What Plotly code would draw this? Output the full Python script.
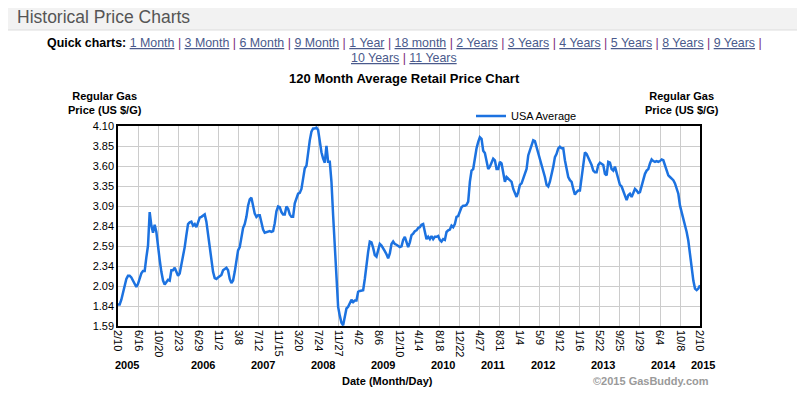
import numpy as np
import pandas as pd
import plotly.graph_objects as go

# weekly-ish average retail price, 2/10/2005 -> 2/10/2015
price = [
    1.86, 1.86, 1.92, 2.02, 2.08, 2.18, 2.22, 2.22, 2.20, 2.16,
    2.10, 2.08, 2.12, 2.18, 2.25, 2.28, 2.28, 2.45, 2.60, 3.02,
    2.85, 2.76, 2.86, 2.77, 2.56, 2.42, 2.27, 2.16, 2.11, 2.14,
    2.17, 2.16, 2.29, 2.29, 2.32, 2.27, 2.22, 2.25, 2.35, 2.48,
    2.58, 2.73, 2.87, 2.89, 2.90, 2.85, 2.87, 2.83, 2.90, 2.95,
    2.96, 2.98, 2.99, 2.90, 2.73, 2.56, 2.39, 2.27, 2.19, 2.18,
    2.20, 2.22, 2.23, 2.29, 2.30, 2.32, 2.29, 2.18, 2.13, 2.16,
    2.27, 2.44, 2.54, 2.58, 2.73, 2.82, 2.87, 2.96, 3.10, 3.18,
    3.20, 3.08, 3.00, 2.96, 2.98, 2.98, 2.87, 2.80, 2.76, 2.77,
    2.78, 2.78, 2.77, 2.78, 2.88, 3.03, 3.09, 3.08, 3.02, 2.99,
    2.99, 3.09, 3.06, 2.99, 2.96, 2.96, 3.13, 3.19, 3.25, 3.26,
    3.31, 3.44, 3.57, 3.60, 3.77, 3.92, 4.03, 4.07, 4.07, 4.08,
    4.05, 3.90, 3.77, 3.69, 3.64, 3.85, 3.65, 3.65, 3.40, 2.98,
    2.56, 2.18, 1.83, 1.72, 1.63, 1.60, 1.70, 1.81, 1.83, 1.87,
    1.92, 1.89, 1.91, 1.91, 2.02, 2.03, 2.04, 2.04, 2.18, 2.37,
    2.52, 2.65, 2.64, 2.57, 2.48, 2.46, 2.55, 2.62, 2.60, 2.57,
    2.53, 2.49, 2.44, 2.50, 2.62, 2.65, 2.62, 2.61, 2.60, 2.58,
    2.59, 2.67, 2.71, 2.64, 2.58, 2.64, 2.73, 2.75, 2.78, 2.79,
    2.82, 2.83, 2.86, 2.87, 2.79, 2.68, 2.71, 2.68, 2.72, 2.68,
    2.71, 2.71, 2.72, 2.67, 2.65, 2.68, 2.67, 2.77, 2.79, 2.80,
    2.85, 2.83, 2.87, 2.96, 2.97, 3.04, 3.08, 3.10, 3.10, 3.11,
    3.15, 3.40, 3.54, 3.56, 3.71, 3.82, 3.90, 3.96, 3.94, 3.79,
    3.76, 3.67, 3.56, 3.59, 3.65, 3.69, 3.67, 3.56, 3.56, 3.65,
    3.63, 3.52, 3.40, 3.46, 3.44, 3.42, 3.40, 3.31, 3.27, 3.21,
    3.27, 3.36, 3.38, 3.44, 3.50, 3.56, 3.73, 3.79, 3.86, 3.92,
    3.91, 3.84, 3.75, 3.69, 3.61, 3.54, 3.46, 3.36, 3.34, 3.40,
    3.48, 3.59, 3.71, 3.75, 3.82, 3.84, 3.82, 3.82, 3.67, 3.56,
    3.46, 3.42, 3.40, 3.31, 3.24, 3.27, 3.29, 3.29, 3.44, 3.63,
    3.77, 3.75, 3.71, 3.67, 3.61, 3.54, 3.52, 3.52, 3.61, 3.64,
    3.63, 3.61, 3.50, 3.48, 3.65, 3.64, 3.56, 3.54, 3.59, 3.52,
    3.44, 3.36, 3.34, 3.29, 3.23, 3.17, 3.23, 3.25, 3.21, 3.27,
    3.31, 3.29, 3.26, 3.27, 3.36, 3.44, 3.50, 3.54, 3.56, 3.63,
    3.68, 3.66, 3.65, 3.66, 3.65, 3.66, 3.68, 3.67, 3.61, 3.54,
    3.48, 3.46, 3.44, 3.42, 3.38, 3.31, 3.25, 3.10, 3.02, 2.92,
    2.85, 2.77, 2.66, 2.48, 2.31, 2.16, 2.06, 2.04, 2.06, 2.10,
]
dates = pd.date_range("2005-02-10", "2015-02-10", periods=len(price))

tick_dates = [
    "2005-02-10", "2005-06-16", "2005-10-20", "2006-02-23", "2006-06-29",
    "2006-11-02", "2007-03-08", "2007-07-12", "2007-11-15", "2008-03-20",
    "2008-07-24", "2008-11-27", "2009-04-02", "2009-08-06", "2009-12-10",
    "2010-04-14", "2010-08-18", "2010-12-22", "2011-04-27", "2011-08-31",
    "2012-01-04", "2012-05-09", "2012-09-12", "2013-01-16", "2013-05-22",
    "2013-09-25", "2014-01-29", "2014-06-04", "2014-10-08", "2015-02-10",
]
tick_text = [f"{d.month}/{d.day}" for d in pd.to_datetime(tick_dates)]

y_labels = ["1.59", "1.84", "2.09", "2.34", "2.59", "2.84",
            "3.09", "3.35", "3.60", "3.85", "4.10"]
y_vals = np.linspace(1.59, 4.10, len(y_labels))

years = ["2005", "2006", "2007", "2008", "2009", "2010",
         "2011", "2012", "2013", "2014", "2015"]
year_px = [127, 203, 263, 323, 383, 443, 493, 543, 603, 663, 703]

quick_links = ["1 Month", "3 Month", "6 Month", "9 Month", "1 Year", "18 month",
               "2 Years", "3 Years", "4 Years", "5 Years", "8 Years", "9 Years"]
quick_links2 = ["10 Years", "11 Years"]

# plot box in window pixels; the page body adds an 8px offset
OFF = 8
L, T, W, H = 118, 126, 582, 200
FW, FH = 805 - OFF, 403 - OFF
FONT = "Arial, Liberation Sans, sans-serif"


def fx(p):
    return (p - L) / W


def fy(p):
    return (T + H - p) / H


fig = go.Figure()
fig.add_trace(go.Scatter(
    x=dates, y=price, mode="lines", name="USA Average",
    line=dict(color="#1c72e0", width=2.5),
))

link = "<span style='color:#4a5a8c'><u>%s</u></span>"
sep = " <span style='color:#7a2a7a'>|</span> "
row1 = "<b>Quick charts:</b> " + sep.join(link % s for s in quick_links) + sep.rstrip()
row2 = sep.join(link % s for s in quick_links2)

ann = [
    dict(x=fx(15), y=fy(17), text="Historical Price Charts", xanchor="left",
         font=dict(size=17.5, color="#555555")),
    dict(x=fx(404), y=fy(43.5), text=row1, font=dict(size=12.4, color="#000000")),
    dict(x=fx(404), y=fy(58), text=row2, font=dict(size=12.4, color="#000000")),
    dict(x=fx(404), y=fy(79), text="<b>120 Month Average Retail Price Chart</b>",
         font=dict(size=13, color="#000000")),
    dict(x=fx(105), y=fy(103), text="<b>Regular Gas<br>Price (US $/G)</b>",
         font=dict(size=11, color="#000000")),
    dict(x=fx(682), y=fy(103), text="<b>Regular Gas<br>Price (US $/G)</b>",
         font=dict(size=11, color="#000000")),
    dict(x=fx(387), y=fy(381), text="<b>Date (Month/Day)</b>",
         font=dict(size=11, color="#000000")),
    dict(x=fx(651), y=fy(381), text="<b>©2015 GasBuddy.com</b>",
         font=dict(size=11, color="#9a9a9a")),
]
for yr, p in zip(years, year_px):
    ann.append(dict(x=fx(p), y=fy(365), text="<b>%s</b>" % yr,
                    font=dict(size=11, color="#000000")))
for a in ann:
    a.update(xref="paper", yref="paper", showarrow=False, yanchor="middle")
    a["font"]["family"] = FONT
    a.setdefault("xanchor", "center")

shapes = [
    dict(type="rect", xref="paper", yref="paper",
         x0=fx(4), x1=fx(806), y0=fy(4), y1=fy(410),
         line=dict(color="#dddddd", width=1), fillcolor="white", layer="below"),
    dict(type="rect", xref="paper", yref="paper",
         x0=fx(4), x1=fx(806), y0=fy(4), y1=fy(30),
         line=dict(color="#dddddd", width=1), fillcolor="#f2f2f2", layer="below"),
]

fig.update_layout(
    width=FW, height=FH,
    margin=dict(l=L - OFF, r=FW - (L - OFF) - W, t=T - OFF, b=FH - (T - OFF) - H),
    paper_bgcolor="white", plot_bgcolor="white",
    font=dict(family=FONT, size=11, color="#000000"),
    annotations=ann, shapes=shapes,
    showlegend=True,
    legend=dict(x=fx(471), y=fy(116), xanchor="left", yanchor="middle",
                bgcolor="rgba(0,0,0,0)", font=dict(size=11, color="#000000"),
                itemwidth=30),
    xaxis=dict(
        range=[dates[0], dates[-1]], tickvals=tick_dates, ticktext=tick_text,
        tickangle=90, showgrid=True, gridcolor="#cccccc", gridwidth=1,
        showline=True, linecolor="black", linewidth=1.5, mirror=True,
        ticks="", zeroline=False, tickfont=dict(size=11),
    ),
    yaxis=dict(
        range=[1.59, 4.10], tickvals=y_vals, ticktext=y_labels,
        showgrid=True, gridcolor="#cccccc", gridwidth=1,
        showline=True, linecolor="black", linewidth=1.5, mirror=True,
        ticks="", zeroline=False, tickfont=dict(size=11),
    ),
    yaxis2=dict(
        range=[1.59, 4.10], tickvals=y_vals, ticktext=y_labels,
        overlaying="y", side="right", showgrid=False,
        ticks="", zeroline=False, tickfont=dict(size=11),
    ),
)

fig.write_html("out.html")
